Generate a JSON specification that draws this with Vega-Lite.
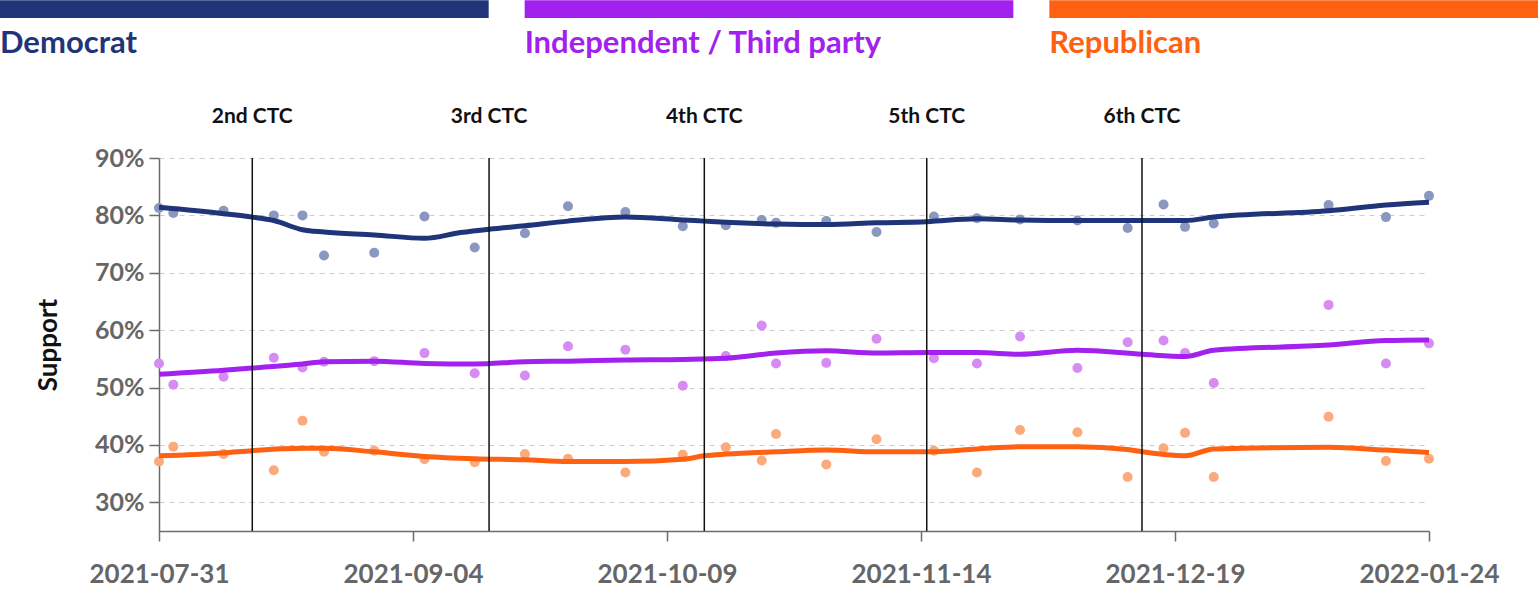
{
  "$schema": "https://vega.github.io/schema/vega-lite/v6.json",
  "padding": 0,
  "background": "white",
  "width": 1270,
  "height": 373,
  "config": {"view": {"stroke": null}, "font": "Lato"},
  "datasets": {
    "header": [
      {"party": "Democrat"},
      {"party": "Independent / Third party"},
      {"party": "Republican"}
    ],
    "ctc": [
      {"date": "2021-08-13", "label": "2nd CTC"},
      {"date": "2021-09-15", "label": "3rd CTC"},
      {"date": "2021-10-15", "label": "4th CTC"},
      {"date": "2021-11-15", "label": "5th CTC"},
      {"date": "2021-12-15", "label": "6th CTC"}
    ],
    "pts": [
      {"party": "Democrat", "date": "2021-07-31", "v": 81.3},
      {"party": "Democrat", "date": "2021-08-02", "v": 80.4},
      {"party": "Democrat", "date": "2021-08-09", "v": 80.8},
      {"party": "Democrat", "date": "2021-08-16", "v": 80.0},
      {"party": "Democrat", "date": "2021-08-20", "v": 80.0},
      {"party": "Democrat", "date": "2021-08-23", "v": 73.0},
      {"party": "Democrat", "date": "2021-08-30", "v": 73.5},
      {"party": "Democrat", "date": "2021-09-06", "v": 79.8},
      {"party": "Democrat", "date": "2021-09-13", "v": 74.4},
      {"party": "Democrat", "date": "2021-09-20", "v": 76.9},
      {"party": "Democrat", "date": "2021-09-26", "v": 81.6},
      {"party": "Democrat", "date": "2021-10-04", "v": 80.6},
      {"party": "Democrat", "date": "2021-10-12", "v": 78.1},
      {"party": "Democrat", "date": "2021-10-18", "v": 78.3},
      {"party": "Democrat", "date": "2021-10-23", "v": 79.2},
      {"party": "Democrat", "date": "2021-10-25", "v": 78.7},
      {"party": "Democrat", "date": "2021-11-01", "v": 79.0},
      {"party": "Democrat", "date": "2021-11-08", "v": 77.1},
      {"party": "Democrat", "date": "2021-11-16", "v": 79.8},
      {"party": "Democrat", "date": "2021-11-22", "v": 79.5},
      {"party": "Democrat", "date": "2021-11-28", "v": 79.3},
      {"party": "Democrat", "date": "2021-12-06", "v": 79.1},
      {"party": "Democrat", "date": "2021-12-13", "v": 77.8},
      {"party": "Democrat", "date": "2021-12-18", "v": 81.9},
      {"party": "Democrat", "date": "2021-12-21", "v": 78.0},
      {"party": "Democrat", "date": "2021-12-25", "v": 78.6},
      {"party": "Democrat", "date": "2022-01-10", "v": 81.8},
      {"party": "Democrat", "date": "2022-01-18", "v": 79.7},
      {"party": "Democrat", "date": "2022-01-24", "v": 83.4},
      {"party": "Independent / Third party", "date": "2021-07-31", "v": 54.2},
      {"party": "Independent / Third party", "date": "2021-08-02", "v": 50.5},
      {"party": "Independent / Third party", "date": "2021-08-09", "v": 51.9},
      {"party": "Independent / Third party", "date": "2021-08-16", "v": 55.2},
      {"party": "Independent / Third party", "date": "2021-08-20", "v": 53.5},
      {"party": "Independent / Third party", "date": "2021-08-23", "v": 54.5},
      {"party": "Independent / Third party", "date": "2021-08-30", "v": 54.6},
      {"party": "Independent / Third party", "date": "2021-09-06", "v": 56.0},
      {"party": "Independent / Third party", "date": "2021-09-13", "v": 52.5},
      {"party": "Independent / Third party", "date": "2021-09-20", "v": 52.1},
      {"party": "Independent / Third party", "date": "2021-09-26", "v": 57.2},
      {"party": "Independent / Third party", "date": "2021-10-04", "v": 56.6},
      {"party": "Independent / Third party", "date": "2021-10-12", "v": 50.3},
      {"party": "Independent / Third party", "date": "2021-10-18", "v": 55.5},
      {"party": "Independent / Third party", "date": "2021-10-23", "v": 60.8},
      {"party": "Independent / Third party", "date": "2021-10-25", "v": 54.2},
      {"party": "Independent / Third party", "date": "2021-11-01", "v": 54.3},
      {"party": "Independent / Third party", "date": "2021-11-08", "v": 58.5},
      {"party": "Independent / Third party", "date": "2021-11-16", "v": 55.1},
      {"party": "Independent / Third party", "date": "2021-11-22", "v": 54.2},
      {"party": "Independent / Third party", "date": "2021-11-28", "v": 58.9},
      {"party": "Independent / Third party", "date": "2021-12-06", "v": 53.4},
      {"party": "Independent / Third party", "date": "2021-12-13", "v": 57.9},
      {"party": "Independent / Third party", "date": "2021-12-18", "v": 58.2},
      {"party": "Independent / Third party", "date": "2021-12-21", "v": 56.0},
      {"party": "Independent / Third party", "date": "2021-12-25", "v": 50.8},
      {"party": "Independent / Third party", "date": "2022-01-10", "v": 64.4},
      {"party": "Independent / Third party", "date": "2022-01-18", "v": 54.2},
      {"party": "Independent / Third party", "date": "2022-01-24", "v": 57.7},
      {"party": "Republican", "date": "2021-07-31", "v": 37.1},
      {"party": "Republican", "date": "2021-08-02", "v": 39.7},
      {"party": "Republican", "date": "2021-08-09", "v": 38.4},
      {"party": "Republican", "date": "2021-08-16", "v": 35.6},
      {"party": "Republican", "date": "2021-08-20", "v": 44.2},
      {"party": "Republican", "date": "2021-08-23", "v": 38.8},
      {"party": "Republican", "date": "2021-08-30", "v": 39.0},
      {"party": "Republican", "date": "2021-09-06", "v": 37.5},
      {"party": "Republican", "date": "2021-09-13", "v": 37.0},
      {"party": "Republican", "date": "2021-09-20", "v": 38.4},
      {"party": "Republican", "date": "2021-09-26", "v": 37.6},
      {"party": "Republican", "date": "2021-10-04", "v": 35.2},
      {"party": "Republican", "date": "2021-10-12", "v": 38.3},
      {"party": "Republican", "date": "2021-10-18", "v": 39.6},
      {"party": "Republican", "date": "2021-10-23", "v": 37.3},
      {"party": "Republican", "date": "2021-10-25", "v": 41.9},
      {"party": "Republican", "date": "2021-11-01", "v": 36.6},
      {"party": "Republican", "date": "2021-11-08", "v": 41.0},
      {"party": "Republican", "date": "2021-11-16", "v": 39.0},
      {"party": "Republican", "date": "2021-11-22", "v": 35.2},
      {"party": "Republican", "date": "2021-11-28", "v": 42.6},
      {"party": "Republican", "date": "2021-12-06", "v": 42.2},
      {"party": "Republican", "date": "2021-12-13", "v": 34.4},
      {"party": "Republican", "date": "2021-12-18", "v": 39.4},
      {"party": "Republican", "date": "2021-12-21", "v": 42.1},
      {"party": "Republican", "date": "2021-12-25", "v": 34.4},
      {"party": "Republican", "date": "2022-01-10", "v": 44.9},
      {"party": "Republican", "date": "2022-01-18", "v": 37.2},
      {"party": "Republican", "date": "2022-01-24", "v": 37.6}
    ],
    "trend": [
      {"party": "Democrat", "date": "2021-07-31", "v": 81.4},
      {"party": "Democrat", "date": "2021-08-09", "v": 80.3},
      {"party": "Democrat", "date": "2021-08-13", "v": 79.7},
      {"party": "Democrat", "date": "2021-08-16", "v": 79.1},
      {"party": "Democrat", "date": "2021-08-20", "v": 77.5},
      {"party": "Democrat", "date": "2021-08-23", "v": 77.1},
      {"party": "Democrat", "date": "2021-08-30", "v": 76.6},
      {"party": "Democrat", "date": "2021-09-06", "v": 76.0},
      {"party": "Democrat", "date": "2021-09-11", "v": 77.0},
      {"party": "Democrat", "date": "2021-09-15", "v": 77.6},
      {"party": "Democrat", "date": "2021-09-20", "v": 78.2},
      {"party": "Democrat", "date": "2021-09-26", "v": 79.0},
      {"party": "Democrat", "date": "2021-10-04", "v": 79.7},
      {"party": "Democrat", "date": "2021-10-12", "v": 79.2},
      {"party": "Democrat", "date": "2021-10-15", "v": 79.0},
      {"party": "Democrat", "date": "2021-10-18", "v": 78.8},
      {"party": "Democrat", "date": "2021-10-25", "v": 78.5},
      {"party": "Democrat", "date": "2021-11-01", "v": 78.4},
      {"party": "Democrat", "date": "2021-11-08", "v": 78.7},
      {"party": "Democrat", "date": "2021-11-15", "v": 78.9},
      {"party": "Democrat", "date": "2021-11-22", "v": 79.4},
      {"party": "Democrat", "date": "2021-11-28", "v": 79.2},
      {"party": "Democrat", "date": "2021-12-06", "v": 79.1},
      {"party": "Democrat", "date": "2021-12-15", "v": 79.1},
      {"party": "Democrat", "date": "2021-12-21", "v": 79.1},
      {"party": "Democrat", "date": "2021-12-25", "v": 79.7},
      {"party": "Democrat", "date": "2022-01-10", "v": 80.8},
      {"party": "Democrat", "date": "2022-01-18", "v": 81.8},
      {"party": "Democrat", "date": "2022-01-24", "v": 82.3},
      {"party": "Independent / Third party", "date": "2021-07-31", "v": 52.3},
      {"party": "Independent / Third party", "date": "2021-08-09", "v": 53.0},
      {"party": "Independent / Third party", "date": "2021-08-13", "v": 53.4},
      {"party": "Independent / Third party", "date": "2021-08-20", "v": 54.1},
      {"party": "Independent / Third party", "date": "2021-08-23", "v": 54.5},
      {"party": "Independent / Third party", "date": "2021-08-30", "v": 54.6},
      {"party": "Independent / Third party", "date": "2021-09-06", "v": 54.2},
      {"party": "Independent / Third party", "date": "2021-09-13", "v": 54.1},
      {"party": "Independent / Third party", "date": "2021-09-20", "v": 54.5},
      {"party": "Independent / Third party", "date": "2021-09-26", "v": 54.6},
      {"party": "Independent / Third party", "date": "2021-10-04", "v": 54.8},
      {"party": "Independent / Third party", "date": "2021-10-12", "v": 54.9},
      {"party": "Independent / Third party", "date": "2021-10-18", "v": 55.1},
      {"party": "Independent / Third party", "date": "2021-10-25", "v": 56.0},
      {"party": "Independent / Third party", "date": "2021-11-01", "v": 56.4},
      {"party": "Independent / Third party", "date": "2021-11-08", "v": 56.0},
      {"party": "Independent / Third party", "date": "2021-11-15", "v": 56.1},
      {"party": "Independent / Third party", "date": "2021-11-22", "v": 56.1},
      {"party": "Independent / Third party", "date": "2021-11-28", "v": 55.8},
      {"party": "Independent / Third party", "date": "2021-12-06", "v": 56.5},
      {"party": "Independent / Third party", "date": "2021-12-15", "v": 55.8},
      {"party": "Independent / Third party", "date": "2021-12-21", "v": 55.4},
      {"party": "Independent / Third party", "date": "2021-12-25", "v": 56.5},
      {"party": "Independent / Third party", "date": "2022-01-10", "v": 57.4},
      {"party": "Independent / Third party", "date": "2022-01-18", "v": 58.2},
      {"party": "Independent / Third party", "date": "2022-01-24", "v": 58.3},
      {"party": "Republican", "date": "2021-07-31", "v": 38.1},
      {"party": "Republican", "date": "2021-08-09", "v": 38.6},
      {"party": "Republican", "date": "2021-08-13", "v": 39.0},
      {"party": "Republican", "date": "2021-08-20", "v": 39.4},
      {"party": "Republican", "date": "2021-08-23", "v": 39.4},
      {"party": "Republican", "date": "2021-08-30", "v": 38.8},
      {"party": "Republican", "date": "2021-09-06", "v": 38.0},
      {"party": "Republican", "date": "2021-09-13", "v": 37.6},
      {"party": "Republican", "date": "2021-09-20", "v": 37.4},
      {"party": "Republican", "date": "2021-09-26", "v": 37.1},
      {"party": "Republican", "date": "2021-10-04", "v": 37.1},
      {"party": "Republican", "date": "2021-10-12", "v": 37.5},
      {"party": "Republican", "date": "2021-10-15", "v": 38.1},
      {"party": "Republican", "date": "2021-10-18", "v": 38.4},
      {"party": "Republican", "date": "2021-10-25", "v": 38.8},
      {"party": "Republican", "date": "2021-11-01", "v": 39.1},
      {"party": "Republican", "date": "2021-11-08", "v": 38.8},
      {"party": "Republican", "date": "2021-11-15", "v": 38.8},
      {"party": "Republican", "date": "2021-11-22", "v": 39.3},
      {"party": "Republican", "date": "2021-11-28", "v": 39.7},
      {"party": "Republican", "date": "2021-12-06", "v": 39.7},
      {"party": "Republican", "date": "2021-12-13", "v": 39.2},
      {"party": "Republican", "date": "2021-12-15", "v": 38.8},
      {"party": "Republican", "date": "2021-12-21", "v": 38.1},
      {"party": "Republican", "date": "2021-12-25", "v": 39.3},
      {"party": "Republican", "date": "2022-01-10", "v": 39.6},
      {"party": "Republican", "date": "2022-01-18", "v": 39.1},
      {"party": "Republican", "date": "2022-01-24", "v": 38.7}
    ]
  },
  "layer": [
    {
      "encoding": {
        "x": {
          "field": "date",
          "type": "temporal",
          "scale": {"domain": [{"year": 2021, "month": 7, "date": 31}, {"year": 2022, "month": 1, "date": 24}], "nice": false},
          "axis": {
            "title": null,
            "grid": false,
            "format": "%Y-%m-%d",
            "values": [
              {"year": 2021, "month": 7, "date": 31},
              {"year": 2021, "month": 9, "date": 4, "hours": 9, "minutes": 36},
              {"year": 2021, "month": 10, "date": 9, "hours": 19, "minutes": 12},
              {"year": 2021, "month": 11, "date": 14, "hours": 4, "minutes": 48},
              {"year": 2021, "month": 12, "date": 19, "hours": 14, "minutes": 24},
              {"year": 2022, "month": 1, "date": 24}
            ],
            "domainColor": "#6b6b6b",
            "domainWidth": 1.5,
            "tickColor": "#6b6b6b",
            "tickWidth": 1.5,
            "tickSize": 10,
            "labelFont": "Lato",
            "labelFontSize": 26,
            "labelFontWeight": "bold",
            "labelColor": "#666666",
            "labelPadding": 20,
            "labelFlush": false,
            "labelOverlap": false
          }
        }
      },
      "layer": [
        {
          "data": {"name": "pts", "format": {"parse": {"date": "date:'%Y-%m-%d'"}}},
          "mark": {"type": "circle", "size": 100, "opacity": 1},
          "encoding": {
            "y": {
              "field": "v",
              "type": "quantitative",
              "scale": {"domain": [25, 90], "nice": false, "zero": false},
              "axis": {
                "title": "Support",
                "titleFont": "Lato",
                "titleFontSize": 26,
                "titleFontWeight": "bold",
                "titleColor": "#111111",
                "titlePadding": 33,
                "values": [30, 40, 50, 60, 70, 80, 90],
                "labelExpr": "datum.value + '%'",
                "grid": true,
                "gridDash": [5, 5],
                "gridColor": "#cccccc",
                "gridWidth": 1.2,
                "domainColor": "#6b6b6b",
                "domainWidth": 1.5,
                "tickColor": "#6b6b6b",
                "tickWidth": 1.5,
                "tickSize": 10,
                "labelFont": "Lato",
                "labelFontSize": 25,
                "labelFontWeight": "bold",
                "labelColor": "#666666",
                "labelPadding": 5
              }
            },
            "fill": {
              "field": "party",
              "type": "nominal",
              "scale": {"domain": ["Democrat", "Independent / Third party", "Republican"], "range": ["#8a97be", "#d68cf3", "#fbaa7b"]},
              "legend": null
            }
          }
        },
        {
          "data": {"name": "trend", "format": {"parse": {"date": "date:'%Y-%m-%d'"}}},
          "mark": {"type": "line", "strokeWidth": 5, "interpolate": "monotone"},
          "encoding": {
            "y": {"field": "v", "type": "quantitative"},
            "stroke": {
              "field": "party",
              "type": "nominal",
              "scale": {"domain": ["Democrat", "Independent / Third party", "Republican"], "range": ["#1f3479", "#a221ee", "#ff6112"]},
              "legend": null
            }
          }
        },
        {
          "data": {"name": "ctc", "format": {"parse": {"date": "date:'%Y-%m-%d'"}}},
          "layer": [
            {
              "mark": {"type": "rule", "color": "#111111", "strokeWidth": 1.5},
              "encoding": {}
            },
            {
              "mark": {"type": "text", "fontSize": 21, "fontWeight": "bold", "font": "Lato", "color": "#111111", "baseline": "alphabetic", "align": "center"},
              "encoding": {
                "y": {"datum": 96.05, "type": "quantitative"},
                "text": {"field": "label"}
              }
            }
          ]
        }
      ]
    },
    {
      "data": {"name": "header"},
      "encoding": {
        "x": {
          "field": "party",
          "type": "nominal",
          "scale": {"domain": ["Democrat", "Independent / Third party", "Republican"], "range": [-159, 1379], "paddingInner": 0.0686, "paddingOuter": 0},
          "axis": null
        },
        "color": {
          "field": "party",
          "type": "nominal",
          "scale": {"domain": ["Democrat", "Independent / Third party", "Republican"], "range": ["#1f3479", "#a221ee", "#ff6112"]},
          "legend": null
        }
      },
      "layer": [
        {
          "mark": {"type": "bar"},
          "encoding": {
            "y": {"datum": 117.48, "type": "quantitative"},
            "y2": {"datum": 114.4}
          }
        },
        {
          "mark": {"type": "text", "align": "left", "baseline": "alphabetic", "fontSize": 31, "fontWeight": "bold", "font": "Lato"},
          "encoding": {
            "x": {"field": "party", "type": "nominal", "bandPosition": 0},
            "y": {"datum": 108.25, "type": "quantitative"},
            "text": {"field": "party"}
          }
        }
      ]
    }
  ],
  "resolve": {"scale": {"x": "independent", "color": "independent"}}
}
